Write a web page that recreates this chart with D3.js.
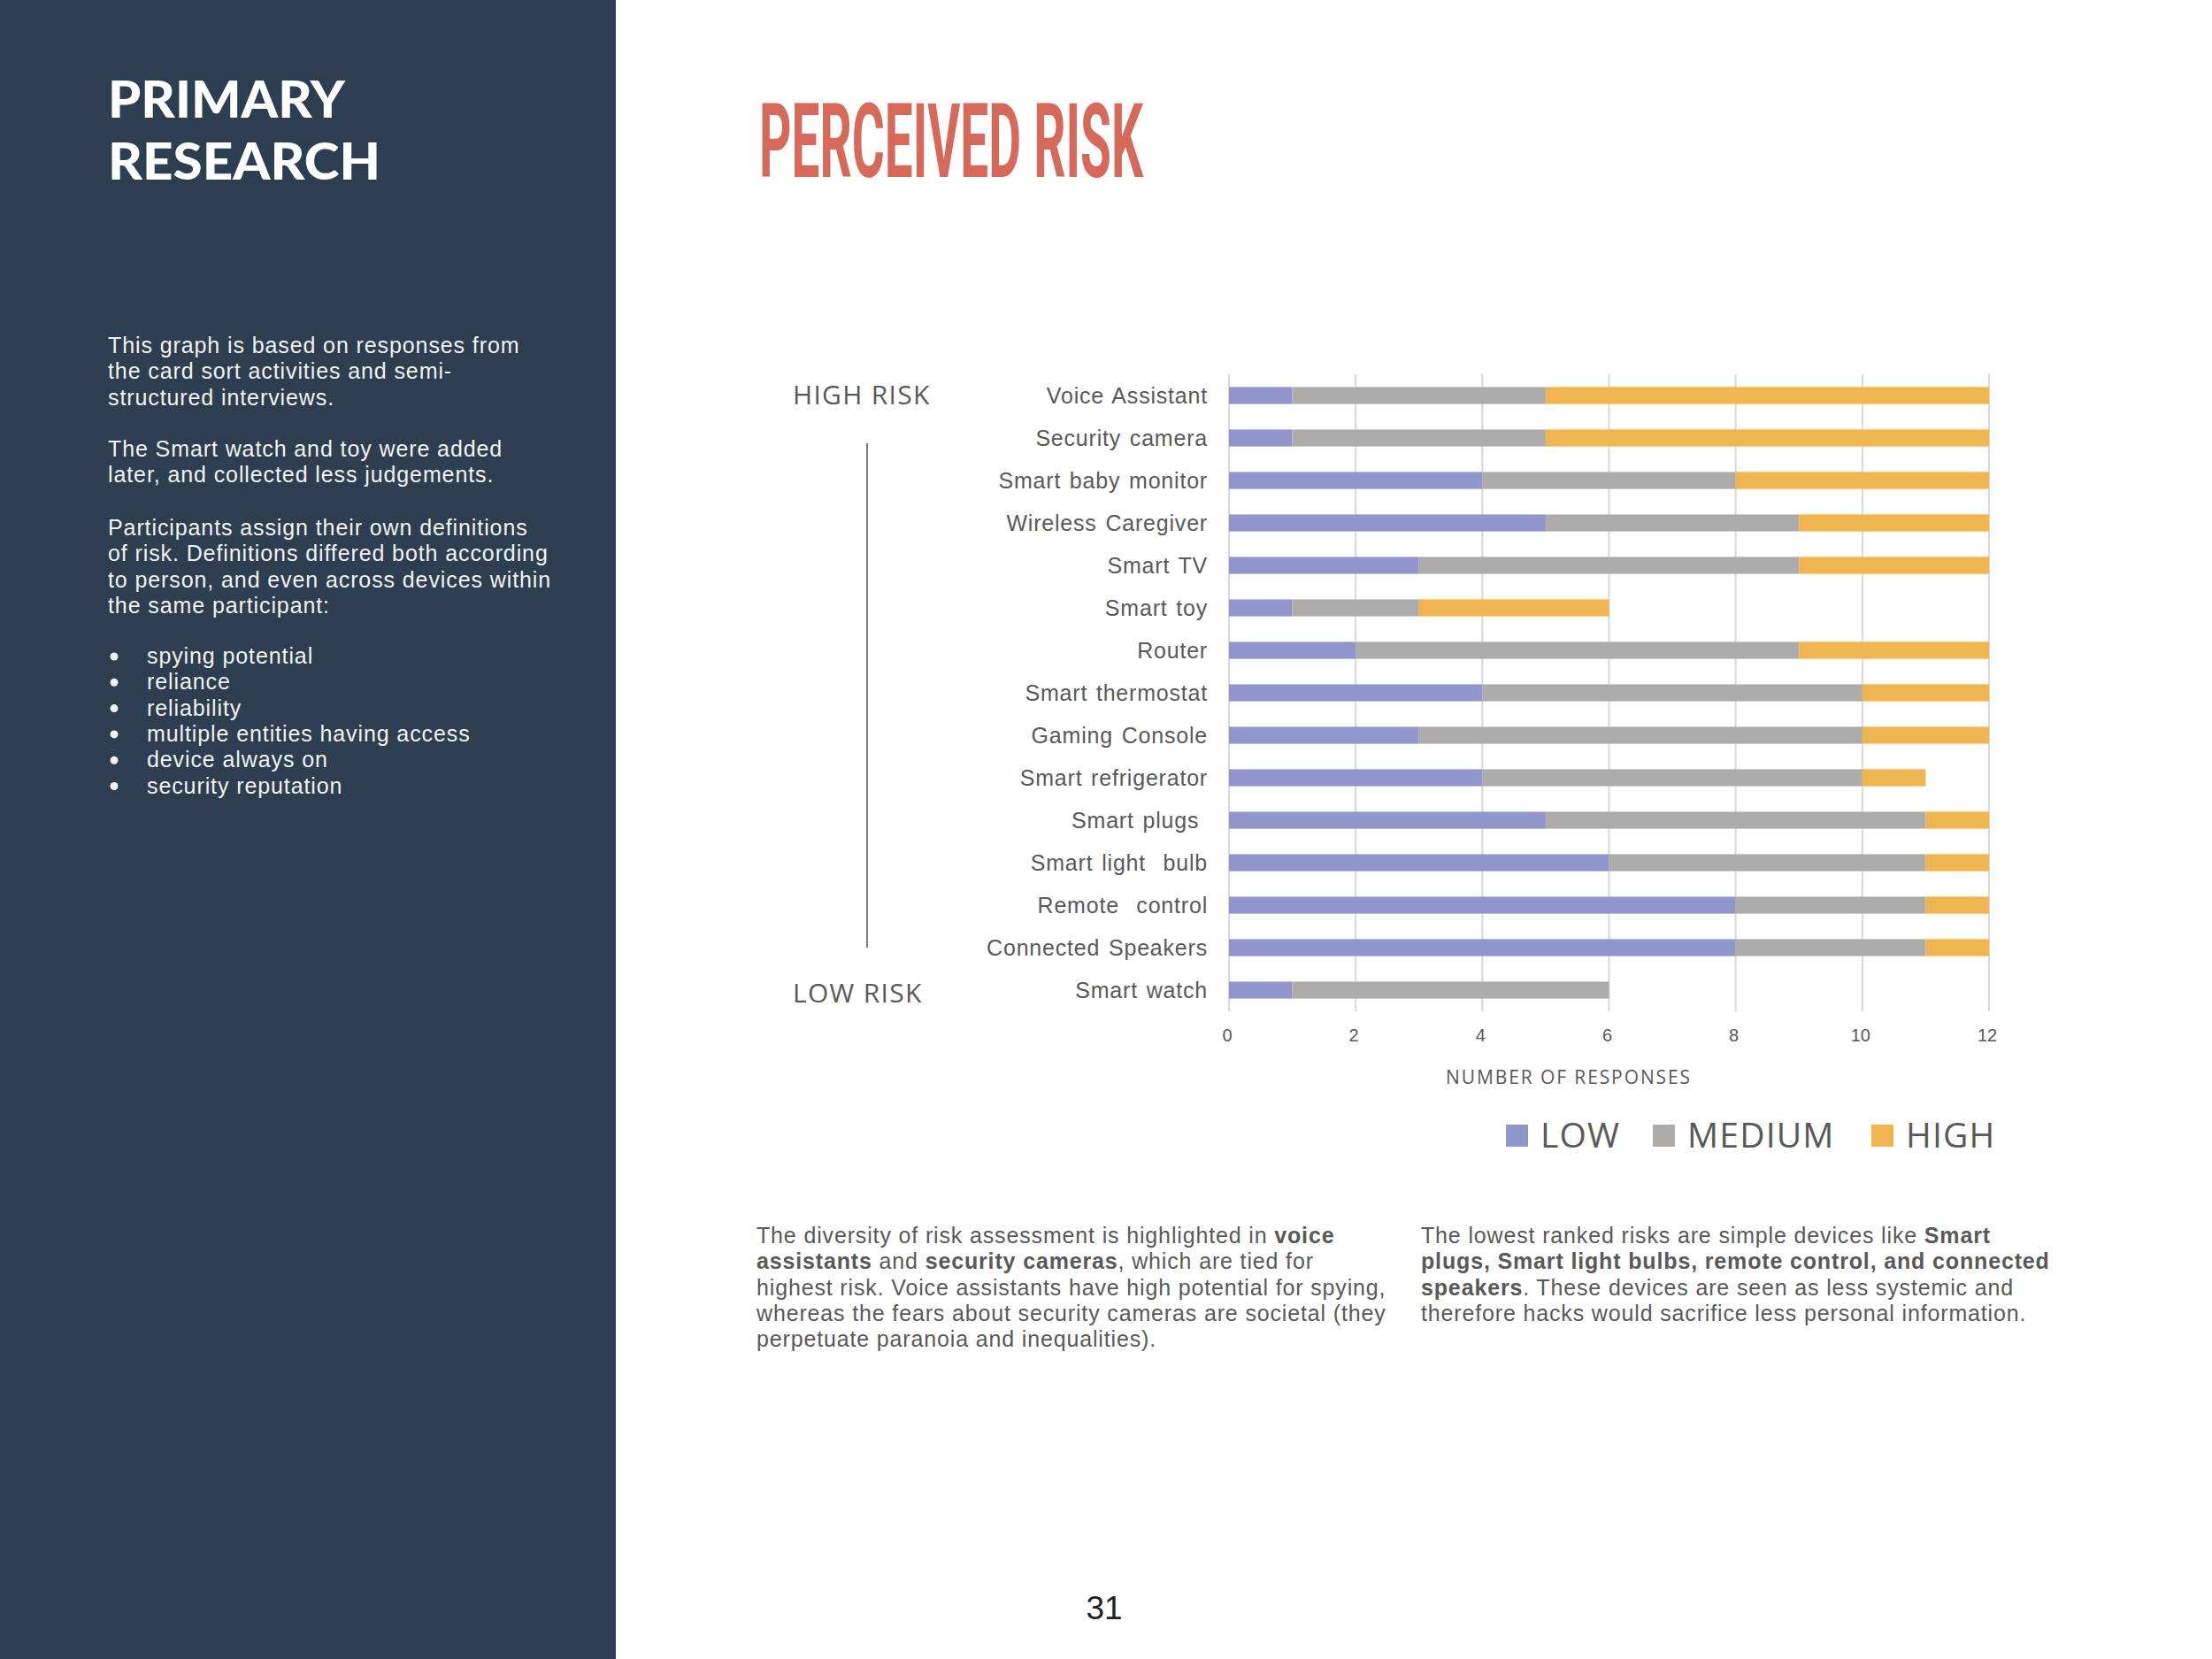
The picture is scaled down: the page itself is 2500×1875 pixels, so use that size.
<!DOCTYPE html>
<html>
<head>
<meta charset="utf-8">
<script src="https://cdn.jsdelivr.net/npm/d3@7"></script>
<style>
  html, body { margin: 0; padding: 0; background: #ffffff; }
  svg { display: block; }
  text { white-space: pre; }
</style>
</head>
<body>
<script>
// ---------------- DATA ----------------
const categories = [
  "Voice Assistant", "Security camera", "Smart baby monitor", "Wireless Caregiver",
  "Smart TV", "Smart toy", "Router", "Smart thermostat", "Gaming Console",
  "Smart refrigerator", "Smart plugs ", "Smart light  bulb", "Remote  control",
  "Connected Speakers", "Smart watch"
];
const lowValues    = [1, 1, 4, 5, 3, 1, 2, 4, 3, 4, 5, 6, 8, 8, 1];
const mediumValues = [4, 4, 4, 4, 6, 2, 7, 6, 7, 6, 6, 5, 3, 3, 5];
const highValues   = [7, 7, 4, 3, 3, 3, 3, 2, 2, 1, 1, 1, 1, 1, 0];
const seriesNames  = ["LOW", "MEDIUM", "HIGH"];
const seriesColors = ["#9097ca", "#aeacaa", "#efb44f"];
const xTicks       = [0, 2, 4, 6, 8, 10, 12];

const sideNotes = [
  "This graph is based on responses from",
  "the card sort activities and semi-",
  "structured interviews."
];
const sideNotes2 = [
  "The Smart watch and toy were added",
  "later, and collected less judgements."
];
const sideNotes3 = [
  "Participants assign their own definitions",
  "of risk. Definitions differed both according",
  "to person, and even across devices within",
  "the same participant:"
];
const riskFactors = [
  "spying potential", "reliance", "reliability",
  "multiple entities having access", "device always on", "security reputation"
];
const leftParagraph = [
  [["The diversity of risk assessment is highlighted in ", false], ["voice", true]],
  [["assistants", true], [" and ", false], ["security cameras", true], [", which are tied for", false]],
  [["highest risk. Voice assistants have high potential for spying,", false]],
  [["whereas the fears about security cameras are societal (they", false]],
  [["perpetuate paranoia and inequalities).", false]]
];
const rightParagraph = [
  [["The lowest ranked risks are simple devices like ", false], ["Smart", true]],
  [["plugs, Smart light bulbs, remote control, and connected", true]],
  [["speakers", true], [". These devices are seen as less systemic and", false]],
  [["therefore hacks would sacrifice less personal information.", false]]
];

// ---------------- LAYOUT ----------------
const W = 2500, H = 1875;
const svg = d3.select("body").append("svg").attr("width", W).attr("height", H);

// left panel
svg.append("rect").attr("x", 0).attr("y", 0).attr("width", 696).attr("height", H).attr("fill", "#2c3e50");

const head = svg.append("g").attr("font-family", "Lato, 'Open Sans', sans-serif")
  .attr("font-weight", 900).attr("fill", "#ffffff").attr("font-size", 58);
head.append("text").attr("x", 122).attr("y", 133).attr("textLength", 268).attr("lengthAdjust", "spacingAndGlyphs").text("PRIMARY");
head.append("text").attr("x", 122).attr("y", 203).attr("textLength", 308).attr("lengthAdjust", "spacingAndGlyphs").text("RESEARCH");

const side = svg.append("g").attr("font-family", "'Liberation Sans', Arial, sans-serif")
  .attr("font-size", 25).attr("letter-spacing", 0.9).attr("fill", "#f2f2f2");
const lh = 29.3;
function block(lines, y0, x) {
  lines.forEach((t, i) => side.append("text").attr("x", x).attr("y", y0 + i * lh).text(t));
}
block(sideNotes, 399, 122);
block(sideNotes2, 516, 122);
block(sideNotes3, 605, 122);
riskFactors.forEach((t, i) => {
  const y = 750 + i * lh;
  side.append("circle").attr("cx", 129).attr("cy", y - 8).attr("r", 4.5).attr("fill", "#f2f2f2");
  side.append("text").attr("x", 166).attr("y", y).text(t);
});

// title
svg.append("text").attr("x", 858).attr("y", 200)
  .attr("font-family", "Roboto, 'Liberation Sans', sans-serif").attr("font-weight", 700)
  .attr("font-size", 117).attr("fill", "#d6695a")
  .attr("textLength", 434).attr("lengthAdjust", "spacingAndGlyphs")
  .text("PERCEIVED RISK");

// ---------------- CHART ----------------
const x = d3.scaleLinear().domain([0, 12]).range([1389, 2248]);
const y = d3.scaleBand().domain(categories).range([423, 1143]).paddingInner(0.6).paddingOuter(0.3);

const table = categories.map((c, i) => ({ cat: c, LOW: lowValues[i], MEDIUM: mediumValues[i], HIGH: highValues[i] }));
const stacked = d3.stack().keys(seriesNames)(table);

// gridlines
svg.append("g").selectAll("line").data(xTicks).join("line")
  .attr("x1", d => x(d)).attr("x2", d => x(d))
  .attr("y1", 423).attr("y2", 1143)
  .attr("stroke", "#d9d9d9").attr("stroke-width", 2);

// bars
svg.append("g").selectAll("g").data(stacked).join("g")
  .attr("fill", (d, i) => seriesColors[i])
  .selectAll("rect").data(d => d).join("rect")
  .attr("x", d => x(d[0]))
  .attr("width", d => x(d[1]) - x(d[0]))
  .attr("y", d => y(d.data.cat))
  .attr("height", y.bandwidth());

// category labels
svg.append("g").attr("font-family", "'Liberation Sans', Arial, sans-serif")
  .attr("font-size", 25).attr("fill", "#595959").attr("text-anchor", "end")
  .attr("letter-spacing", 0.8).attr("word-spacing", 2)
  .selectAll("text").data(categories).join("text")
  .attr("x", 1365).attr("y", d => y(d) + y.bandwidth() / 2)
  .attr("dominant-baseline", "central")
  .text(d => d);

// tick labels
svg.append("g").attr("font-family", "'Liberation Sans', Arial, sans-serif")
  .attr("font-size", 20).attr("fill", "#595959").attr("text-anchor", "middle")
  .selectAll("text").data(xTicks).join("text")
  .attr("x", d => x(d) - 2).attr("y", 1177)
  .text(d => d);

// axis title
svg.append("text").attr("x", 1773).attr("y", 1225).attr("text-anchor", "middle")
  .attr("font-family", "'Open Sans', sans-serif").attr("font-size", 21).attr("fill", "#595959")
  .attr("letter-spacing", 1.9)
  .text("NUMBER OF RESPONSES");

// risk scale annotation
const ann = svg.append("g").attr("font-family", "'Open Sans', sans-serif").attr("font-size", 30)
  .attr("letter-spacing", 1.3).attr("fill", "#595959");
ann.append("text").attr("x", 896).attr("y", 457).text("HIGH RISK");
ann.append("text").attr("x", 896).attr("y", 1133).text("LOW RISK");
svg.append("line").attr("x1", 980).attr("x2", 980).attr("y1", 501).attr("y2", 1071)
  .attr("stroke", "#7f7f7f").attr("stroke-width", 2);

// legend
const legendX = [1702, 1868, 2115];
const lg = svg.append("g").selectAll("g").data(seriesNames).join("g")
  .attr("transform", (d, i) => `translate(${legendX[i]},1271)`);
lg.append("rect").attr("width", 25).attr("height", 25).attr("fill", (d, i) => seriesColors[i]);
lg.append("text").attr("x", 39).attr("y", 26)
  .attr("font-family", "'Open Sans', sans-serif").attr("font-size", 39).attr("fill", "#595959")
  .attr("letter-spacing", 1.2)
  .text(d => d);

// ---------------- BOTTOM TEXT ----------------
function para(lines, x0, y0) {
  const g = svg.append("g").attr("font-family", "'Liberation Sans', Arial, sans-serif")
    .attr("font-size", 25).attr("letter-spacing", 0.85).attr("fill", "#595959");
  lines.forEach((segs, i) => {
    const t = g.append("text").attr("x", x0).attr("y", y0 + i * 29.3);
    segs.forEach(s => t.append("tspan").attr("font-weight", s[1] ? 700 : 400).text(s[0]));
  });
}
para(leftParagraph, 855, 1405);
para(rightParagraph, 1606, 1405);

// page number
svg.append("text").attr("x", 1248).attr("y", 1830).attr("text-anchor", "middle")
  .attr("font-family", "'Liberation Sans', Arial, sans-serif").attr("font-size", 37).attr("fill", "#222222")
  .text("31");
</script>
</body>
</html>
